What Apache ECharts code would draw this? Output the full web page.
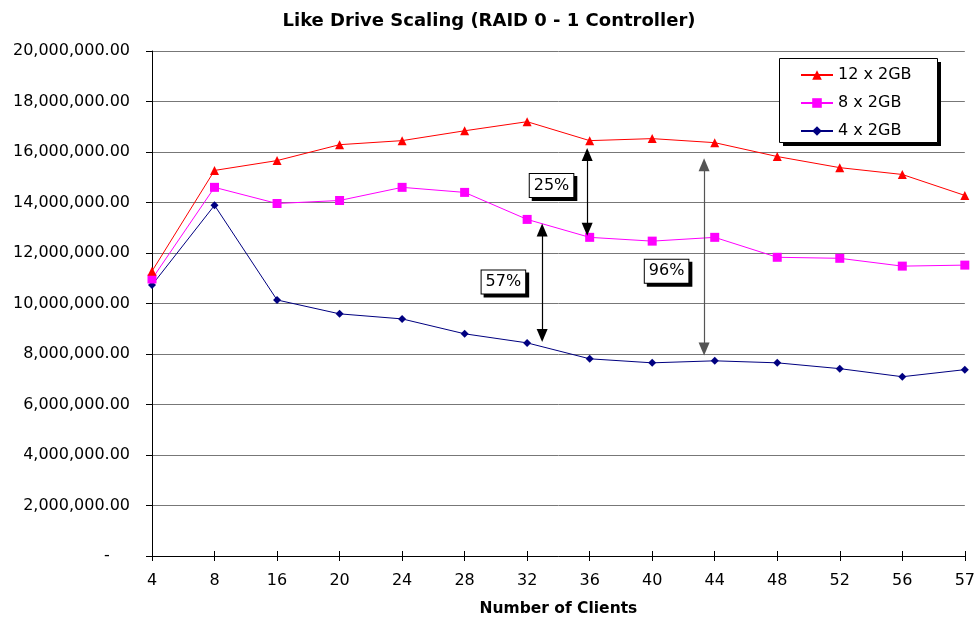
<!DOCTYPE html>
<html>
<head>
<meta charset="utf-8">
<script src="https://cdn.jsdelivr.net/npm/echarts@6/dist/echarts.min.js"></script>
<style>
  html, body { margin: 0; padding: 0; background: #fff; }
  #myChart { width: 978px; height: 622px; }
</style>
</head>
<body>
<div id="myChart"></div>
<script>
// 数据
var clients = ["4", "8", "16", "20", "24", "28", "32", "36", "40", "44", "48", "52", "56", "57"];
var drives12 = [11280000, 15270000, 15660000, 16290000, 16450000, 16840000, 17200000, 16450000, 16530000, 16370000, 15820000, 15380000, 15110000, 14280000];
var drives8 = [10970000, 14600000, 13960000, 14080000, 14600000, 14400000, 13330000, 12620000, 12470000, 12620000, 11830000, 11790000, 11480000, 11520000];
var drives4 = [10730000, 13890000, 10140000, 9590000, 9390000, 8800000, 8440000, 7810000, 7650000, 7730000, 7650000, 7420000, 7100000, 7380000];

// 标注 (x = category index, y = value)
var arrowX = [6.96, 6.24, 8.83];
var arrowFrom = [15900000, 12910000, 15500000];
var arrowTo = [12940000, 8730000, 8200000];
var noteText = ["25%", "57%", "96%"];
var noteX = [6.39, 5.62, 8.23];
var noteY = [14670000, 10850000, 11280000];

var font = "DejaVu Sans";
var chart = echarts.init(document.getElementById("myChart"));

var arrowData = [];
var noteData = [];
for (var i = 0; i < arrowX.length; i++) {
  arrowData.push([
    { coord: [arrowX[i], arrowFrom[i]], lineStyle: { color: i === 2 ? "#555" : "#000" } },
    { coord: [arrowX[i], arrowTo[i]] }
  ]);
  noteData.push({ name: noteText[i], coord: [noteX[i], noteY[i]] });
}

function yLabel(v) {
  if (v === 0) return "-    ";
  return v.toLocaleString("en-US", { minimumFractionDigits: 2, maximumFractionDigits: 2 });
}

var option = {
  animation: false,
  backgroundColor: "#fff",
  title: {
    text: "Like Drive Scaling (RAID 0 - 1 Controller)",
    left: "center",
    top: 7,
    textStyle: { fontFamily: font, fontWeight: "bold", fontSize: 18, color: "#000" }
  },
  // 图例框
  graphic: [
    { type: "rect", left: 783, top: 62, z: 90, shape: { width: 158, height: 84 }, style: { fill: "#000" } },
    { type: "rect", left: 779, top: 58, z: 91, shape: { width: 158, height: 84 }, style: { fill: "#fff", stroke: "#000", lineWidth: 1 } }
  ],
  legend: {
    data: ["12 x 2GB", "8 x 2GB", "4 x 2GB"],
    orient: "vertical",
    left: 790,
    top: 63,
    z: 100,
    padding: [4, 4, 4, 10],
    itemWidth: 32,
    itemHeight: 12,
    itemGap: 12,
    textStyle: { fontFamily: font, fontSize: 16, color: "#000" }
  },
  grid: { left: 152, right: 12, top: 51, bottom: 64 },
  xAxis: [
    {
      type: "category",
      data: clients,
      boundaryGap: false,
      name: "Number of Clients",
      nameLocation: "middle",
      nameGap: 45,
      nameTextStyle: { fontFamily: font, fontWeight: "bold", fontSize: 15.5, color: "#000" },
      axisLine: { lineStyle: { color: "#000", width: 1 } },
      axisTick: { length: 5, lineStyle: { color: "#000" } },
      axisLabel: { margin: 17, fontFamily: font, fontSize: 16, color: "#000" },
      splitLine: { show: false }
    },
    {
      type: "value",
      min: 0,
      max: clients.length - 1,
      show: false
    },
    {
      // 轴上方的短刻度
      type: "category",
      data: clients,
      boundaryGap: false,
      position: "bottom",
      axisLine: { show: false },
      axisTick: { inside: true, length: 5, lineStyle: { color: "#000" } },
      axisLabel: { show: false },
      splitLine: { show: false }
    }
  ],
  yAxis: {
    type: "value",
    min: 0,
    max: 20000000,
    interval: 2000000,
    axisLine: { show: true, lineStyle: { color: "#000", width: 1 } },
    axisTick: { show: true, length: 6, lineStyle: { color: "#000" } },
    axisLabel: { margin: 22, fontFamily: font, fontSize: 16, color: "#000", formatter: yLabel },
    splitLine: { lineStyle: { color: "#777", width: 1 } }
  },
  series: [
    {
      name: "4 x 2GB",
      type: "line",
      data: drives4,
      symbol: "diamond",
      symbolSize: 8,
      lineStyle: { color: "#000080", width: 1 },
      itemStyle: { color: "#000080" }
    },
    {
      name: "8 x 2GB",
      type: "line",
      data: drives8,
      symbol: "rect",
      symbolSize: 9,
      lineStyle: { color: "#FF00FF", width: 1 },
      itemStyle: { color: "#FF00FF" }
    },
    {
      name: "12 x 2GB",
      type: "line",
      data: drives12,
      symbol: "triangle",
      symbolSize: 9,
      lineStyle: { color: "#FF0000", width: 1 },
      itemStyle: { color: "#FF0000" }
    },
    {
      name: "notes",
      type: "line",
      xAxisIndex: 1,
      data: [],
      silent: true,
      markLine: {
        silent: true,
        symbol: ["triangle", "triangle"],
        symbolSize: [11, 13],
        label: { show: false },
        lineStyle: { color: "#000", width: 1.2, type: "solid" },
        data: arrowData
      },
      markPoint: {
        silent: true,
        symbol: "rect",
        symbolSize: 1,
        itemStyle: { color: "rgba(0,0,0,0)" },
        label: {
          show: true,
          position: "inside",
          formatter: "{b}",
          fontFamily: font,
          fontSize: 16,
          color: "#000",
          backgroundColor: "#fff",
          borderColor: "#000",
          borderWidth: 1,
          padding: [4, 4, 3, 4],
          shadowColor: "#000",
          shadowOffsetX: 3,
          shadowOffsetY: 3,
          shadowBlur: 0
        },
        data: noteData
      }
    }
  ]
};

chart.setOption(option);
</script>
</body>
</html>
